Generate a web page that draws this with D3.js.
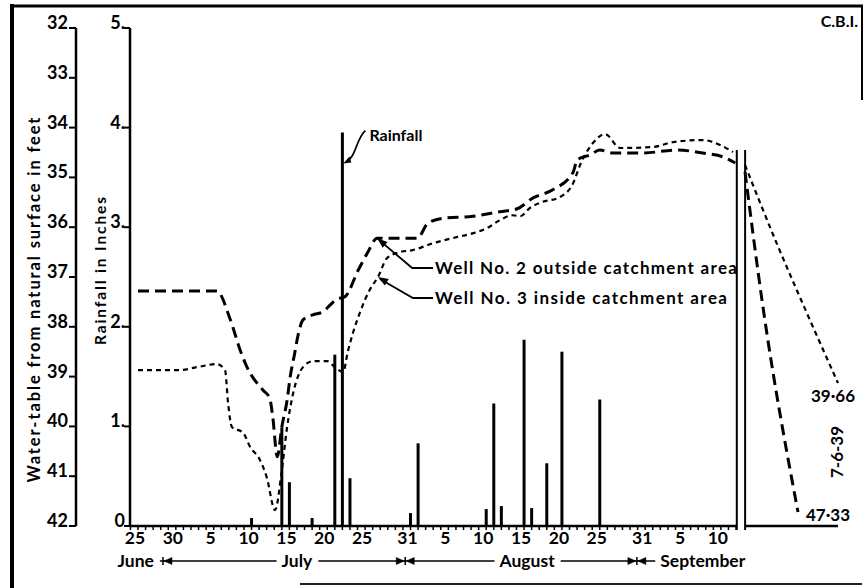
<!DOCTYPE html>
<html><head><meta charset="utf-8">
<script src="https://cdn.jsdelivr.net/npm/d3@7"></script>
<style>
html,body{margin:0;padding:0;background:#fff;}
svg{display:block;}
text{font-family:Lato,"Open Sans",sans-serif;font-weight:700;fill:#000;}
</style></head>
<body><svg id="c" width="864" height="588"></svg>
<script>
// ---- data ----
const depthTicks = [32,33,34,35,36,37,38,39,40,41,42];
const rainTicks = [0,1,2,3,4,5];
const rainTickLabels = ["0","1.","2.","3.","4.","5."];
// days counted from 25 June
const dateTickDays = [0,5,10,15,20,25,30,36,41,46,51,56,61,67,72,77];
const dateTickLabels = ["25","30","5","10","15","20","25","31","5","10","15","20","25","31","5","10"];
const monthNames = ["June","July","August","September"];
const monthLabelDays = [-0.3,21.0,51.4,74.6];
const monthBoundaryDays = [3.3,35.3,65.9];

const rainDays = [15,19,20,23,26,27,28,36,37,46,47,48,51,52,54,56,61];
const rainInches = [0.08,0.99,0.44,0.08,1.72,3.95,0.48,0.13,0.83,0.17,1.23,0.20,1.87,0.18,0.63,1.75,1.27];

const well2Days = [0,10.4,12.2,13.5,14.4,16.5,17.4,17.8,18.4,19.0,19.7,20.1,20.7,21.1,21.8,23.1,24.4,25.4,26.3,27.3,29.1,30.3,31.6,36.9,38.3,40.3,44.3,47.8,50.1,52.2,54.8,57.5,58.0,59.7,61.0,62.7,66.7,71.2,74.6,77.3,78.9];
const well2Depth = [37.28,37.28,37.86,38.47,38.81,39.27,39.43,39.81,40.61,40.01,39.47,39.01,38.53,38.20,37.86,37.76,37.70,37.56,37.44,37.40,36.86,36.52,36.22,36.22,35.92,35.82,35.78,35.69,35.63,35.41,35.25,34.89,34.65,34.55,34.45,34.51,34.51,34.45,34.51,34.59,34.71];

const well3Days = [0,5.5,7.8,10.4,11.5,11.9,12.4,13.9,14.8,16.1,17.0,18.1,19.0,19.7,20.5,21.8,23.1,25.0,26.0,27.1,27.7,28.4,29.3,30.6,31.7,32.9,34.6,36.3,39.0,42.1,44.3,46.1,47.8,49.5,50.5,51.8,53.1,55.8,57.5,58.4,60.1,61.7,63.7,68.0,70.7,74.6,76.9,78.6];
const well3Depth = [38.87,38.87,38.81,38.75,38.87,39.53,40.01,40.13,40.41,40.67,41.02,41.68,40.88,40.01,39.33,38.81,38.69,38.69,38.81,38.91,38.51,38.12,37.72,37.26,37.00,36.62,36.50,36.46,36.32,36.20,36.12,36.02,35.86,35.76,35.78,35.61,35.51,35.39,35.11,34.75,34.31,34.13,34.41,34.39,34.29,34.25,34.35,34.49];

// after the break (to 7-6-39), position as fraction of the short right segment
const well2AfterPos = [0,0.19,0.57];
const well2AfterDepth = [34.89,37.56,41.72];
const well3AfterPos = [0,0.34,0.65,1.0];
const well3AfterDepth = [34.75,36.32,37.66,39.13];
const finalLabels = ["39·66","47·33"];
const finalDate = "7-6-39";
const breakDays = [79.1,80.2];

// ---- scales ----
const svg = d3.select("#c");
const xDay = d3.scaleLinear().domain([0,80]).range([138,743.6]);
const xPost = d3.scaleLinear().domain([0,1]).range([745,838]);
const yDepth = d3.scaleLinear().domain([32,42]).range([28,526]);
const yRain = d3.scaleLinear().domain([0,5]).range([526,28]);
const xWaterAxis = 76, xRainAxis = 130;
const y0 = yRain(0);

// frame
svg.append("line").attr("x1",12).attr("x2",12).attr("y1",4).attr("y2",588).attr("stroke","#000").attr("stroke-width",4);
svg.append("line").attr("x1",10).attr("x2",863).attr("y1",6).attr("y2",6).attr("stroke","#000").attr("stroke-width",3);
svg.append("line").attr("x1",862).attr("x2",862).attr("y1",5).attr("y2",100).attr("stroke","#000").attr("stroke-width",2);
svg.append("line").attr("x1",300).attr("x2",862).attr("y1",584).attr("y2",584).attr("stroke","#222").attr("stroke-width",2);

// water-table axis
svg.append("line").attr("x1",xWaterAxis).attr("x2",xWaterAxis).attr("y1",yDepth(32)).attr("y2",yDepth(42)).attr("stroke","#000").attr("stroke-width",2.5);
const wt = svg.append("g").selectAll("g").data(depthTicks).join("g");
wt.append("line").attr("x1",xWaterAxis-7).attr("x2",xWaterAxis).attr("y1",d=>yDepth(d)).attr("y2",d=>yDepth(d)).attr("stroke","#000").attr("stroke-width",2);
wt.append("text").attr("x",xWaterAxis-8).attr("y",d=>yDepth(d)+1).attr("text-anchor","end").attr("font-size",18).text(d=>d);

// rainfall axis
svg.append("line").attr("x1",xRainAxis).attr("x2",xRainAxis).attr("y1",yRain(5)).attr("y2",yRain(0)).attr("stroke","#000").attr("stroke-width",2.5);
const rt = svg.append("g").selectAll("g").data(rainTicks).join("g");
rt.append("line").attr("x1",xRainAxis-6).attr("x2",xRainAxis).attr("y1",d=>yRain(d)).attr("y2",d=>yRain(d)).attr("stroke","#000").attr("stroke-width",2);
rt.append("text").attr("x",xRainAxis-5).attr("y",d=>yRain(d)+1).attr("text-anchor","end").attr("font-size",18).text((d,i)=>rainTickLabels[i]);

// axis titles
svg.append("text").attr("transform","translate(40,300) rotate(-90)").attr("text-anchor","middle").attr("font-size",16.5)
  .attr("textLength",365).attr("lengthAdjust","spacing").text("Water-table from natural surface in feet");
svg.append("text").attr("transform","translate(106,271) rotate(-90)").attr("text-anchor","middle").attr("font-size",15.5)
  .attr("textLength",148).attr("lengthAdjust","spacing").text("Rainfall in Inches");

// x baseline (broken)
svg.append("line").attr("x1",xRainAxis).attr("x2",xDay(breakDays[0])).attr("y1",y0).attr("y2",y0).attr("stroke","#000").attr("stroke-width",2.5);
svg.append("line").attr("x1",xDay(breakDays[1])).attr("x2",xPost(1)).attr("y1",y0).attr("y2",y0).attr("stroke","#000").attr("stroke-width",2.5);
// daily ticks
svg.append("g").selectAll("line").data(d3.range(-1,80)).join("line")
  .attr("x1",d=>xDay(d)).attr("x2",d=>xDay(d)).attr("y1",y0).attr("y2",y0+4).attr("stroke","#000").attr("stroke-width",1.5);
// date labels
svg.append("g").selectAll("text").data(dateTickDays).join("text")
  .attr("x",d=>xDay(d)-3).attr("y",y0+18).attr("text-anchor","middle").attr("font-size",17.5).text((d,i)=>dateTickLabels[i]);

// month labels with arrows
const monthY = 567, arrowY = 561;
const mt = svg.append("g").selectAll("text").data(monthNames).join("text")
  .attr("x",(d,i)=>xDay(monthLabelDays[i])).attr("y",monthY).attr("text-anchor","middle").attr("font-size",17.5).text(d=>d);
const widths = [];
mt.each(function(){widths.push(this.getComputedTextLength());});
const ag = svg.append("g").attr("stroke","#000").attr("fill","#000");
function arrowHead(xTip,dir){ // dir=-1 points left, +1 points right
  ag.append("path").attr("d",`M${xTip},${arrowY} L${xTip-dir*8},${arrowY-3.5} L${xTip-dir*8},${arrowY+3.5} Z`).attr("stroke-width",0.5);
}
monthBoundaryDays.forEach((b,i)=>{
  const xb = xDay(b);
  ag.append("line").attr("x1",xb).attr("x2",xb).attr("y1",arrowY-4).attr("y2",arrowY+4).attr("stroke-width",1.5);
  const prevRight = xDay(monthLabelDays[i]) + widths[i]/2 + 6;
  ag.append("line").attr("x1",prevRight).attr("x2",xb).attr("y1",arrowY).attr("y2",arrowY).attr("stroke-width",1.5);
  if(i>0) arrowHead(xb-1,1);
  const nextLeft = xDay(monthLabelDays[i+1]) - widths[i+1]/2 - 5;
  ag.append("line").attr("x1",xb).attr("x2",nextLeft).attr("y1",arrowY).attr("y2",arrowY).attr("stroke-width",1.5);
  arrowHead(xb+1,-1);
});

// rainfall bars
svg.append("g").selectAll("line").data(rainDays).join("line")
  .attr("x1",d=>xDay(d)).attr("x2",d=>xDay(d)).attr("y1",y0).attr("y2",(d,i)=>yRain(rainInches[i]))
  .attr("stroke","#000").attr("stroke-width",3);

// wells
const line = d3.line().curve(d3.curveMonotoneX);
const w2 = well2Days.map((d,i)=>[xDay(d),yDepth(well2Depth[i])]);
const w3 = well3Days.map((d,i)=>[xDay(d),yDepth(well3Depth[i])]);
svg.append("path").attr("d",line(w2)).attr("fill","none").attr("stroke","#000").attr("stroke-width",3).attr("stroke-dasharray","11,6");
svg.append("path").attr("d",line(w3)).attr("fill","none").attr("stroke","#000").attr("stroke-width",2.2).attr("stroke-dasharray","5,4");
const w2a = well2AfterPos.map((p,i)=>[xPost(p),yDepth(well2AfterDepth[i])]);
const w3a = well3AfterPos.map((p,i)=>[xPost(p),yDepth(well3AfterDepth[i])]);
svg.append("path").attr("d",line(w2a)).attr("fill","none").attr("stroke","#000").attr("stroke-width",3).attr("stroke-dasharray","11,6");
svg.append("path").attr("d",line(w3a)).attr("fill","none").attr("stroke","#000").attr("stroke-width",2.2).attr("stroke-dasharray","5,4");

// break double line
breakDays.forEach(b=>{
  svg.append("line").attr("x1",xDay(b)).attr("x2",xDay(b)).attr("y1",yDepth(34.45)).attr("y2",y0+4).attr("stroke","#000").attr("stroke-width",2);
});

// final labels
svg.append("text").attr("x",833).attr("y",402).attr("text-anchor","middle").attr("font-size",17).text(finalLabels[0]);
svg.append("text").attr("x",828).attr("y",521).attr("text-anchor","middle").attr("font-size",17).text(finalLabels[1]);
svg.append("text").attr("transform","translate(843,452) rotate(-90)").attr("text-anchor","middle").attr("font-size",17).text(finalDate);

// Rainfall annotation
const bigI = rainInches.indexOf(d3.max(rainInches));
const bx = xDay(rainDays[bigI]);
svg.append("path").attr("d",`M${bx+23},${yRain(3.97)} C${bx+14},${yRain(3.9)} ${bx+14},${yRain(3.7)} ${bx+3},${yRain(3.65)}`)
  .attr("fill","none").attr("stroke","#000").attr("stroke-width",1.8);
svg.append("path").attr("d",`M${bx+1},${yRain(3.64)} l6,-7 l2,6 Z`).attr("fill","#000");
svg.append("text").attr("x",bx+27).attr("y",yRain(3.87)).attr("font-size",16).text("Rainfall");

// well legends
const legend = [
  {txt:"Well No. 2 outside catchment area", tip:[xDay(well2Days[22]),yDepth(well2Depth[22])], ty:274, len:302},
  {txt:"Well No. 3 inside catchment area", tip:[xDay(well3Days[24]),yDepth(well3Depth[24])], ty:304, len:292}
];
legend.forEach(l=>{
  const ly = l.ty-6;
  const [tx,ty] = l.tip;
  svg.append("path").attr("d",`M${tx+2},${ty+2} L${tx+35},${ly} L${433},${ly}`).attr("fill","none").attr("stroke","#000").attr("stroke-width",1.8);
  const ang = Math.atan2(ly-ty, 35);
  const a1 = ang+0.35, a2 = ang-0.35;
  svg.append("path").attr("d",`M${tx},${ty} L${tx+11*Math.cos(a1)},${ty+11*Math.sin(a1)} L${tx+11*Math.cos(a2)},${ty+11*Math.sin(a2)} Z`).attr("fill","#000");
  svg.append("text").attr("x",435).attr("y",l.ty).attr("font-size",17).attr("textLength",l.len).attr("lengthAdjust","spacing").text(l.txt);
});

// C.B.I.
svg.append("text").attr("x",858).attr("y",27).attr("text-anchor","end").attr("font-size",16).text("C.B.I.");
</script></body></html>
